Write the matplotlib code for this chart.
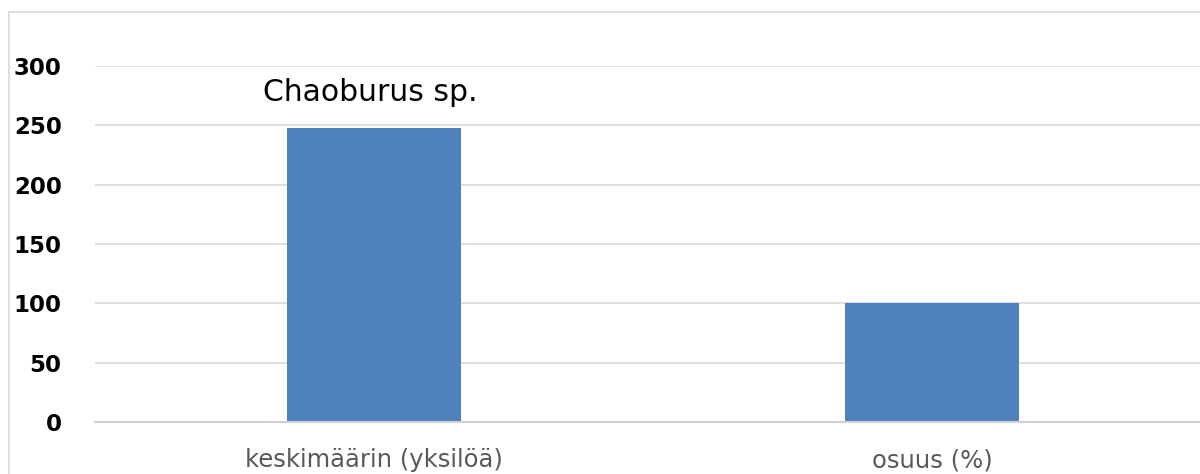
import matplotlib.pyplot as plt
from matplotlib.patches import Rectangle

categories = ['keskimäärin (yksilöä)', 'osuus (%)']
values = [248, 100]
yticks = [0, 50, 100, 150, 200, 250, 300]

plt.rcParams['font.family'] = ['DejaVu Sans']

fig = plt.figure(figsize=(12, 4.74), dpi=100)
ax = fig.add_axes([95 / 1200, 52 / 474, 1116 / 1200, 356 / 474])

ax.bar(range(len(values)), values, width=0.313, color='#4f81bd', zorder=3)
ax.set_xlim(-0.5, 1.5)
ax.set_ylim(0, 300)
ax.set_yticks(yticks)
ax.set_xticks(range(len(categories)))
ax.set_xticklabels(categories, fontsize=17.5, color='#595959')
ax.tick_params(axis='y', length=0, pad=24, labelsize=16.5)
ax.tick_params(axis='x', length=0, pad=19)
for t in ax.get_yticklabels():
    t.set_fontweight('bold')
ax.grid(axis='y', color='#d9d9d9', linewidth=1.2, zorder=0)
for s in ['top', 'right', 'left']:
    ax.spines[s].set_visible(False)
ax.spines['bottom'].set_color('#d0d0d0')
ax.spines['bottom'].set_linewidth(1.5)
ax.spines['bottom'].set_zorder(4)

fig.text(370 / 1200, 1 - 93 / 474, 'Chaoburus sp.', fontsize=21.5,
         ha='center', va='center', color='black')

fig.patches.append(Rectangle((9 / 1200, -0.1), 1.2, 0.1 + (474 - 12) / 474,
                             transform=fig.transFigure, fill=False,
                             edgecolor='#d9d9d9', linewidth=1.2))

fig.savefig('out.png', dpi=100)
